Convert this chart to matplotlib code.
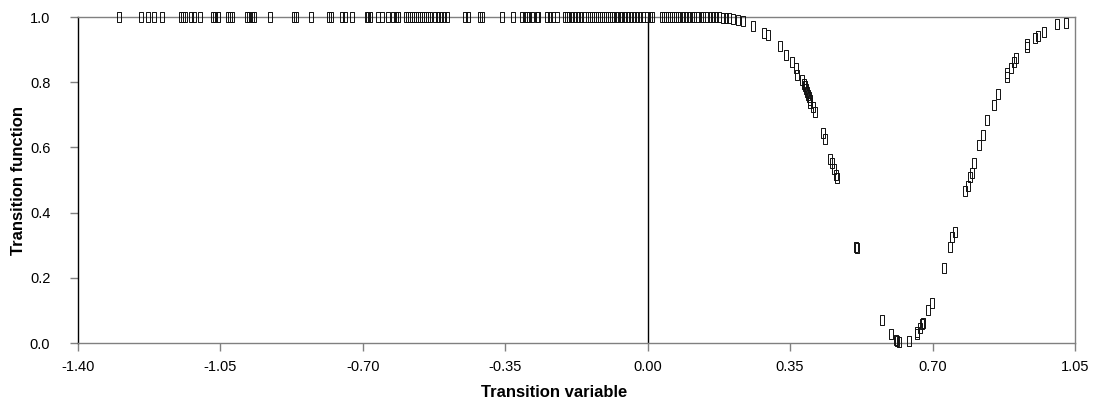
import matplotlib
matplotlib.use('Agg')
import matplotlib.pyplot as plt
from matplotlib.path import Path

plt.rcParams['font.family'] = ['Liberation Sans', 'DejaVu Sans']

# points sitting on the upper regime (transition function = 1)
x_top = [-1.299, -1.245, -1.228, -1.213, -1.194, -1.147, -1.142, -1.137, -1.123, -1.115,
         -1.100, -1.068, -1.063, -1.056, -1.032, -1.027, -1.022, -0.985, -0.980, -0.973,
         -0.968, -0.928, -0.869, -0.865, -0.828, -0.784, -0.779, -0.752, -0.744, -0.727,
         -0.690, -0.688, -0.683, -0.663, -0.653, -0.639, -0.626, -0.619, -0.614, -0.594,
         -0.589, -0.585, -0.580, -0.575, -0.570, -0.565, -0.560, -0.555, -0.550, -0.545,
         -0.540, -0.535, -0.523, -0.516, -0.508, -0.501, -0.494, -0.449, -0.442, -0.413,
         -0.408, -0.359, -0.332, -0.309, -0.302, -0.297, -0.292, -0.285, -0.273, -0.270,
         -0.248, -0.241, -0.233, -0.224, -0.204, -0.199, -0.194, -0.187, -0.179, -0.172,
         -0.165, -0.157, -0.147, -0.142, -0.138, -0.133, -0.128, -0.123, -0.118, -0.113,
         -0.108, -0.103, -0.098, -0.093, -0.088, -0.084, -0.076, -0.069, -0.064, -0.056,
         -0.049, -0.042, -0.034, -0.027, -0.020, -0.012, -0.002, 0.005, 0.010, 0.034,
         0.039, 0.044, 0.049, 0.054, 0.059, 0.064, 0.069, 0.074, 0.079, 0.086,
         0.093, 0.101, 0.108, 0.115, 0.123, 0.130, 0.137, 0.145, 0.152, 0.160,
         0.167, 0.174]
y_top = [1.0] * len(x_top)

# points along the dip
x_dip = [0.184, 0.192, 0.201, 0.209, 0.221, 0.233, 0.258, 0.285, 0.295, 0.324,
         0.341, 0.354, 0.364, 0.368, 0.378, 0.383, 0.386, 0.388, 0.391, 0.393,
         0.396, 0.398, 0.400, 0.405, 0.410, 0.430, 0.435, 0.449, 0.452, 0.457,
         0.462, 0.464, 0.513, 0.514, 0.575, 0.597, 0.609, 0.612, 0.617, 0.641,
         0.661, 0.663, 0.668, 0.673, 0.676, 0.690, 0.698, 0.727, 0.743, 0.749,
         0.754, 0.781, 0.786, 0.793, 0.796, 0.803, 0.813, 0.823, 0.835, 0.852,
         0.862, 0.882, 0.884, 0.894, 0.901, 0.906, 0.931, 0.932, 0.953, 0.960,
         0.973, 1.005, 1.027]
y_dip = [0.998, 0.997, 0.996, 0.994, 0.990, 0.987, 0.973, 0.950, 0.945, 0.912,
         0.883, 0.862, 0.843, 0.822, 0.807, 0.795, 0.787, 0.779, 0.770, 0.762,
         0.754, 0.745, 0.737, 0.724, 0.709, 0.645, 0.625, 0.563, 0.551, 0.533,
         0.515, 0.505, 0.295, 0.292, 0.070, 0.028, 0.009, 0.007, 0.004, 0.006,
         0.028, 0.035, 0.045, 0.057, 0.060, 0.100, 0.122, 0.229, 0.295, 0.324,
         0.341, 0.465, 0.483, 0.510, 0.522, 0.553, 0.608, 0.638, 0.684, 0.730,
         0.763, 0.815, 0.827, 0.843, 0.863, 0.873, 0.909, 0.916, 0.937, 0.942,
         0.955, 0.979, 0.983]

x_ticks = [-1.40, -1.05, -0.70, -0.35, 0.00, 0.35, 0.70, 1.05]
y_ticks = [0.0, 0.2, 0.4, 0.6, 0.8, 1.0]

# tall narrow rectangle marker
rect = Path([(-0.22, -0.5), (0.22, -0.5), (0.22, 0.5), (-0.22, 0.5), (-0.22, -0.5)],
            [Path.MOVETO, Path.LINETO, Path.LINETO, Path.LINETO, Path.CLOSEPOLY])

fig = plt.figure(figsize=(10.96, 4.05), dpi=100)
ax = fig.add_axes([0.0712, 0.153, 0.9096, 0.805])

ax.axvline(0, color='black', lw=1, zorder=1)
ax.plot(x_top + x_dip, y_top + y_dip, linestyle='none', marker=rect, markersize=7,
        markerfacecolor='none', markeredgecolor='#111111', markeredgewidth=0.7,
        clip_on=False, zorder=3)

ax.set_xlim(-1.40, 1.05)
ax.set_ylim(0, 1)
ax.set_xticks(x_ticks)
ax.set_xticklabels(['%.2f' % t for t in x_ticks])
ax.set_yticks(y_ticks)
ax.set_yticklabels(['%.1f' % t for t in y_ticks])

for s in ['top', 'right', 'bottom']:
    ax.spines[s].set_color('#808080')
    ax.spines[s].set_linewidth(1)
ax.spines['left'].set_color('black')
ax.spines['left'].set_linewidth(1)

ax.tick_params(axis='x', direction='out', length=6, width=1, color='#808080',
               labelsize=10.5, pad=6)
ax.tick_params(axis='y', direction='out', length=6, width=1, color='#808080',
               labelsize=10.5, pad=14)

ax.set_xlabel('Transition variable', fontsize=12, fontweight='bold')
ax.set_ylabel('Transition function', fontsize=12, fontweight='bold')
ax.xaxis.set_label_coords(0.478, -0.13)
ax.yaxis.set_label_coords(-0.052, 0.5)

fig.savefig('out.png', dpi=100)
